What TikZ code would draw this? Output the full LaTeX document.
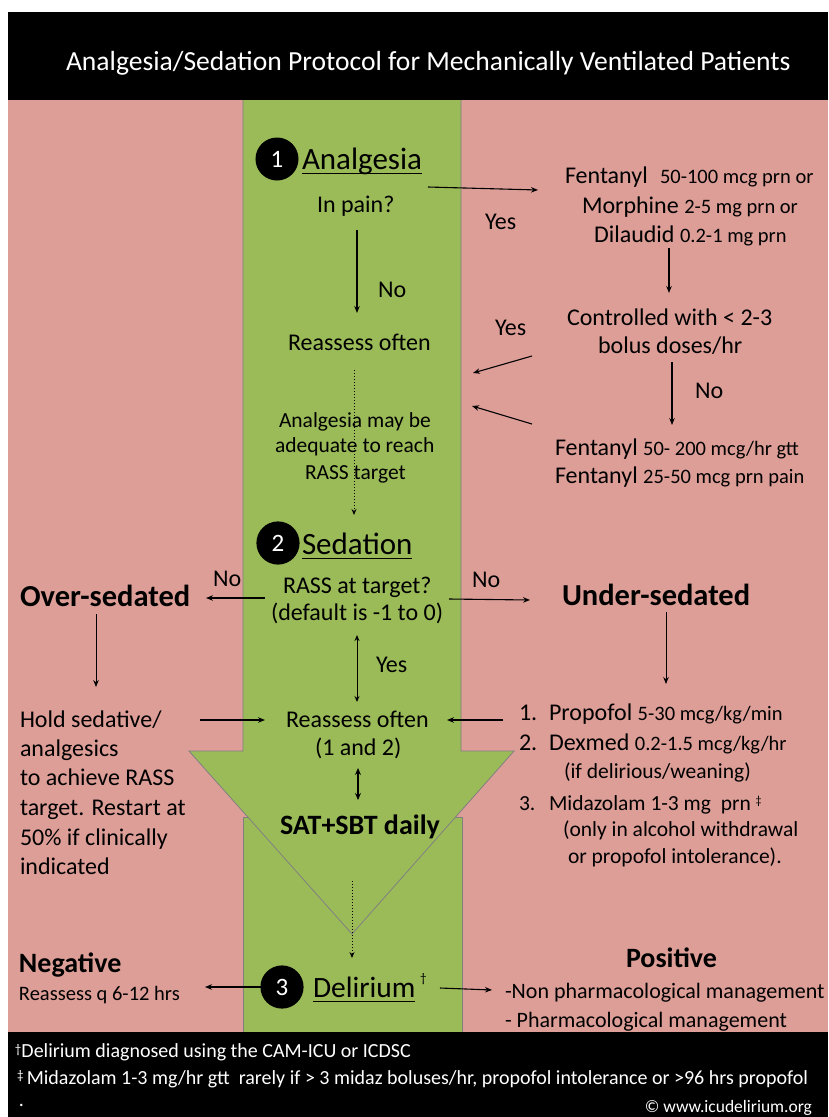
\documentclass[tikz,border=0pt]{standalone}
\usepackage{fontspec}
\setmainfont{Carlito}
\usetikzlibrary{arrows.meta,calc}
\definecolor{pinkbg}{RGB}{221,158,151}
\definecolor{greenbg}{RGB}{155,187,89}
\definecolor{edgegray}{RGB}{128,128,128}
\newcommand{\fs}[1]{\fontsize{#1}{#1}\selectfont}
\begin{document}
\begin{tikzpicture}[x=1pt,y=-1pt,
  every node/.style={inner sep=0pt, outer sep=0pt, anchor=base west},
  t24/.style={font=\fs{24}},
  t22/.style={font=\fs{22}},
  t21/.style={font=\fs{21.5}},
  t20/.style={font=\fs{20.5}},
  hdr/.style={font=\fs{31}},
  bigb/.style={font=\bfseries\fs{30.5}},
  midb/.style={font=\bfseries\fs{28}},
  foot/.style={font=\fs{20}, text=white},
  numcirc/.style={circle, fill=black, inner sep=8pt, minimum size=37pt, text=white, font=\fs{25}, anchor=center},
  arr/.style={-{Stealth[length=7pt,width=5.5pt]}, line width=1.1pt},
  darr/.style={{Stealth[length=6pt,width=5pt]}-{Stealth[length=6pt,width=5pt]}, line width=1pt},
  tarr/.style={{Stealth[length=7pt,width=6pt]}-{Stealth[length=7pt,width=6pt]}, line width=2.2pt},
  dotarr/.style={-{Stealth[length=6pt,width=5pt]}, line width=1pt, dotted},
  uline/.style={line width=1.3pt}
]
\useasboundingbox (0,0) rectangle (828,1117);
\fill[white] (0,0) rectangle (828,1117);
% panels
\fill[black] (8,12) rectangle (828,100);
\fill[pinkbg] (8,100) rectangle (828,1032);
\fill[black] (8,1032) rectangle (828,1117);
% green band and arrow
\filldraw[fill=greenbg, draw=edgegray, line width=0.8pt] (243,1032) -- (243,817) -- (462,817) -- (462,1032);
\filldraw[fill=greenbg, draw=edgegray, line width=0.8pt]
  (243,100) -- (243,751) -- (189,751) -- (352,934) -- (514,751) -- (461,751) -- (461,100);

% title
\node[font=\fs{27.6}, text=white] (title) at (66,70) {Analgesia/Sedation Protocol for Mechanically Ventilated Patients};

% ---- 1 Analgesia
\node[numcirc] (c1) at (277,159) {1};
\node[hdr] (analg) at (302,169) {Analgesia};
\draw[uline] ([yshift=-4.5pt]analg.base west) -- ([yshift=-4.5pt]analg.base east);
\node[t24] (inpain) at (317,212) {In pain?};
\node[t24] (yes1) at (485,229) {Yes};
\node[t24] (no1) at (378,297) {No};
\node[t24] (reass1) at (288,350) {Reassess often};
\node[t24] (fenA) at (565,183) {Fentanyl};
\node[t20] (fenAd) at (660,183) {50-100 mcg prn or};
\node[t24] (morA) at (582,213) {Morphine {\fs{20.5}2-5 mg prn or}};
\node[t24] (dilA) at (594,242) {Dilaudid {\fs{20.5}0.2-1 mg prn}};
\node[t24] (yes2) at (495,335) {Yes};
\node[t24] (ctrlA) at (567,325) {Controlled with < 2-3};
\node[t24] (ctrlB) at (598,353) {bolus doses/hr};
\node[t24] (no2) at (695,398) {No};
\node[t24] (fenB) at (555,455) {Fentanyl {\fs{20.5}50- 200 mcg/hr gtt}};
\node[t24] (fenC) at (555,483) {Fentanyl {\fs{20.5}25-50 mcg prn pain}};
\node[t21] (adqA) at (279,427) {Analgesia may be};
\node[t21] (adqB) at (275,452) {adequate to reach};
\node[t21] (adqC) at (305,479) {RASS target};

\coordinate (p1s) at (428,187); \coordinate (p1e) at (538,190);
\coordinate (p2s) at (357,230); \coordinate (p2e) at (357,313);
\coordinate (p3s) at (669,248); \coordinate (p3e) at (669,293);
\coordinate (p4s) at (532,356); \coordinate (p4e) at (473,373);
\coordinate (p5s) at (672,362); \coordinate (p5e) at (672,425);
\coordinate (p6s) at (532,424); \coordinate (p6e) at (472,406);
\coordinate (d1s) at (354,370); \coordinate (d1e) at (354,515);
\draw[arr] (p1s) -- (p1e);
\draw[arr] (p2s) -- (p2e);
\draw[arr] (p3s) -- (p3e);
\draw[arr] (p4s) -- (p4e);
\draw[arr] (p5s) -- (p5e);
\draw[arr] (p6s) -- (p6e);
\draw[dotarr] (d1s) -- (d1e);

% ---- 2 Sedation
\node[numcirc] (c2) at (278,543) {2};
\node[hdr] (sed) at (302,554) {Sedation};
\draw[uline] ([yshift=-4.5pt]sed.base west) -- ([yshift=-4.5pt]sed.base east);
\node[t24] (rassA) at (283,593) {RASS at target?};
\node[t24] (rassB) at (271,620) {(default is -1 to 0)};
\node[t24] (no3) at (213,586) {No};
\node[t24] (no4) at (472,587) {No};
\node[bigb] (over) at (20,606) {Over-sedated};
\node[bigb] (under) at (562,605) {Under-sedated};
\node[t24] (yes3) at (376,672) {Yes};
\node[t24] (reass2A) at (286,727) {Reassess often};
\node[t24] (reass2B) at (315,755) {(1 and 2)};
\node[midb] (sat) at (280,834) {SAT+SBT daily};

\node[t24] (holdA) at (20,727) {Hold sedative/};
\node[t24] (holdB) at (20,756) {analgesics};
\node[t24] (holdC) at (20,785) {to achieve RASS};
\node[t24] (holdD) at (20,815) {target. Restart at};
\node[t24] (holdE) at (20,845) {50\% if clinically};
\node[t24] (holdF) at (20,874) {indicated};

\node[t24] (n1) at (519,720) {1.};
\node[t24] (l1) at (549,720) {Propofol {\fs{20.5}5-30 mcg/kg/min}};
\node[t24] (n2) at (519,750) {2.};
\node[t24] (l2) at (549,750) {Dexmed {\fs{20.5}0.2-1.5 mcg/kg/hr}};
\node[t21] (l2b) at (564,778) {(if delirious/weaning)};
\node[t21] (n3) at (519,810) {3.};
\node[t21] (l3) at (549,810) {Midazolam 1-3 mg\ \ prn \raisebox{6pt}{\fs{12}‡}};
\node[t21] (l3b) at (563,836) {(only in alcohol withdrawal};
\node[t21] (l3c) at (568,863) {or propofol intolerance).};

\coordinate (q1s) at (265,598); \coordinate (q1e) at (206,598);
\coordinate (q2s) at (449,599); \coordinate (q2e) at (530,600);
\coordinate (q3s) at (357,635); \coordinate (q3e) at (357,702);
\coordinate (q4s) at (96,614); \coordinate (q4e) at (96,687);
\coordinate (q5s) at (666,612); \coordinate (q5e) at (666,684);
\coordinate (q6s) at (200,720); \coordinate (q6e) at (265,720);
\coordinate (q7s) at (503,720); \coordinate (q7e) at (447,720);
\coordinate (q8s) at (358,768); \coordinate (q8e) at (358,800);
\coordinate (d2s) at (352,881); \coordinate (d2e) at (352,958);
\draw[arr] (q1s) -- (q1e);
\draw[arr] (q2s) -- (q2e);
\draw[darr] (q3s) -- (q3e);
\draw[arr, line width=0.9pt] (q4s) -- (q4e);
\draw[arr, line width=0.9pt] (q5s) -- (q5e);
\draw[arr] (q6s) -- (q6e);
\draw[arr] (q7s) -- (q7e);
\draw[tarr] (q8s) -- (q8e);
\draw[dotarr] (d2s) -- (d2e);

% ---- 3 Delirium
\node[numcirc] (c3) at (282,987) {3};
\node[font=\fs{29.5}] (delir) at (313,997) {Delirium};
\draw[uline] ([yshift=-4.5pt]delir.base west) -- ([yshift=-4.5pt]delir.base east);
\node[font=\fs{13}] (dag) at (420,982) {†};
\node[midb] (neg) at (19,972) {Negative};
\node[t20] (reassq) at (19,1000) {Reassess q 6-12 hrs};
\node[midb] (pos) at (626,967) {Positive};
\node[t22] (nonph) at (505,998) {-Non pharmacological management};
\node[t22] (pharm) at (505,1027) {- Pharmacological management};
\coordinate (r1s) at (262,987); \coordinate (r1e) at (205,987);
\coordinate (r2s) at (440,988); \coordinate (r2e) at (492,990);
\draw[arr] (r1s) -- (r1e);
\draw[arr] (r2s) -- (r2e);

% footer
\node[foot] (fA) at (15,1057) {\raisebox{3.5pt}{\fs{13}†}Delirium diagnosed using the CAM-ICU or ICDSC};
\node[foot] (fB) at (17,1084) {\raisebox{4.5pt}{\fs{13}‡}\,Midazolam 1-3 mg/hr gtt\ \ rarely if > 3 midaz boluses/hr, propofol intolerance or >96 hrs propofol};
\node[foot] (fC) at (19,1106) {.};
\node[font=\fs{17.5}, text=white, anchor=base east] (copy) at (812,1112) {© www.icudelirium.org};
\end{tikzpicture}
\end{document}
